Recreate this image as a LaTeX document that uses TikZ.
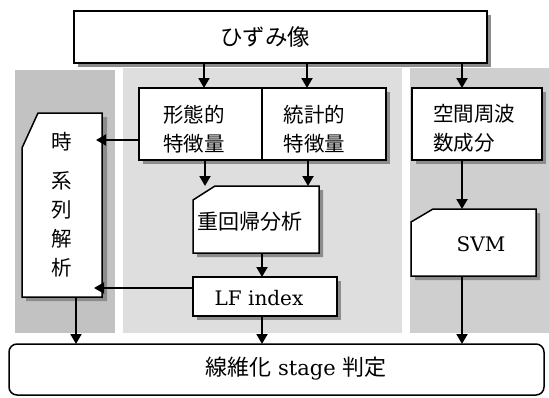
\documentclass[tikz,border=0pt]{standalone}
\usepackage{fontspec}
\newfontfamily\jp{Noto Sans CJK JP}
\newfontfamily\lat{DejaVu Serif}
\usetikzlibrary{arrows.meta,calc}
\pgfdeclarelayer{panels}
\pgfdeclarelayer{shapes}
\pgfsetlayers{panels,shapes,main}
\begin{document}
\begin{tikzpicture}[x=1pt,y=-1pt,
  box/.style={inner sep=0pt, outer sep=0pt},
  txt/.style={inner sep=0pt, outer sep=0pt, align=center, font=\jp\fontsize{20.5}{29}\selectfont},
  arr/.style={line width=2pt, -{Triangle[length=10pt,width=11pt]}},
  boxline/.style={line width=1.5pt, fill=white, line join=miter},
  shade/.style={fill=black!45, draw=none},
  panel/.style={draw=none}]
\useasboundingbox (0,0) rectangle (549,397);

% box nodes
\node[box, minimum width=413pt, minimum height=52pt] (top) at (280.5,37) {};
\node[box, minimum width=123pt, minimum height=72pt] (fa) at (200.5,124) {};
\node[box, minimum width=124pt, minimum height=72pt] (fb) at (324,124) {};
\node[box, minimum width=130pt, minimum height=72pt] (sp) at (477,124) {};
\node[box, minimum width=80pt, minimum height=184pt] (ts) at (62,205) {};
\node[box, minimum width=126pt, minimum height=67pt] (reg) at (256,219.5) {};
\node[box, minimum width=144pt, minimum height=39pt] (lf) at (265,296.5) {};
\node[box, minimum width=125pt, minimum height=67pt] (svm) at (473.5,242.5) {};
\node[box, minimum width=535pt, minimum height=51pt] (st) at (276.5,369.5) {};

% text nodes
\node[txt, font=\jp\fontsize{22.5}{26}\selectfont] (top-t) at (265,37) {ひずみ像};
\node[txt] (fa-t) at (194,129) {形態的\\特徴量};
\node[txt] (fb-t) at (314.5,129) {統計的\\特徴量};
\node[txt, align=left] (sp-t) at (474,128) {空間周波\\数成分};
\node[txt] (ts-t) at (62,205) {時\\[10pt]系\\列\\解\\析};
\node[txt, font=\jp\fontsize{21}{26}\selectfont] (reg-t) at (250,222) {重回帰分析};
\node[txt, font=\lat\fontsize{20}{22}\selectfont] (lf-t) at (259,298) {LF index};
\node[txt, font=\lat\fontsize{20}{22}\selectfont] (svm-t) at (481,244) {SVM};
\node[txt, font=\lat\fontsize{21}{25}\selectfont] (st-t) at (296,369) {{\jp\fontsize{22}{25}\selectfont 線維化} stage {\jp\fontsize{22}{25}\selectfont 判定}};

% panels
\begin{pgfonlayer}{panels}
  \fill[panel, black!24] (15,70) rectangle (115,333);
  \fill[panel, black!13] (123,68) rectangle (402,333);
  \fill[panel, black!19] (410,68) rectangle (549,333);
\end{pgfonlayer}

% box outlines
\begin{pgfonlayer}{shapes}
  % top
  \fill[shade] ($(top.north west)+(4,4)$) rectangle ($(top.south east)+(4,4)$);
  \draw[boxline] (top.north west) rectangle (top.south east);
  % features
  \fill[shade] ($(fa.north west)+(4,4)$) rectangle ($(fb.south east)+(4,4)$);
  \draw[boxline] (fa.north west) rectangle (fb.south east);
  \draw[line width=1.5pt] (fa.north east) -- (fa.south east);
  % spatial freq
  \fill[shade] ($(sp.north west)+(4,4)$) rectangle ($(sp.south east)+(4,4)$);
  \draw[boxline] (sp.north west) rectangle (sp.south east);
  % time series (cut corner)
  \fill[shade] ($(ts.north west)+(20,4)$) -- ($(ts.north east)+(5,4)$) -- ($(ts.south east)+(5,4)$)
     -- ($(ts.south west)+(4,4)$) -- ($(ts.north west)+(4,39)$) -- cycle;
  \draw[boxline] ($(ts.north west)+(16,0)$) -- (ts.north east) -- (ts.south east)
     -- (ts.south west) -- ($(ts.north west)+(0,35)$) -- cycle;
  % regression (cut corner)
  \fill[shade] ($(reg.north west)+(26,4)$) -- ($(reg.north east)+(4,4)$) -- ($(reg.south east)+(4,4)$)
     -- ($(reg.south west)+(4,4)$) -- ($(reg.north west)+(4,18)$) -- cycle;
  \draw[boxline] ($(reg.north west)+(22,0)$) -- (reg.north east) -- (reg.south east)
     -- (reg.south west) -- ($(reg.north west)+(0,14)$) -- cycle;
  % LF index
  \fill[shade] ($(lf.north west)+(4,4)$) rectangle ($(lf.south east)+(4,4)$);
  \draw[boxline] (lf.north west) rectangle (lf.south east);
  % SVM (cut corner)
  \fill[shade] ($(svm.north west)+(26,4)$) -- ($(svm.north east)+(4,4)$) -- ($(svm.south east)+(4,4)$)
     -- ($(svm.south west)+(4,4)$) -- ($(svm.north west)+(4,17)$) -- cycle;
  \draw[boxline] ($(svm.north west)+(22,0)$) -- (svm.north east) -- (svm.south east)
     -- (svm.south west) -- ($(svm.north west)+(0,13)$) -- cycle;
  % stage decision
  \draw[boxline, rounded corners=8pt] (st.north west) rectangle (st.south east);
\end{pgfonlayer}

% guide coordinates for connector positions
\coordinate (xa) at (204,0);
\coordinate (xb) at (307,0);
\coordinate (xc) at (462,0);
\coordinate (xd) at (205,0);
\coordinate (xe) at (308,0);
\coordinate (xf) at (262,0);
\coordinate (xg) at (76,0);
\coordinate (ya) at (0,140);
\coordinate (yb) at (0,288);

% connectors
\draw[arr] (top.south -| xa) -- (fa.north -| xa);
\draw[arr] (top.south -| xb) -- (fb.north -| xb);
\draw[arr] (top.south -| xc) -- (sp.north -| xc);
\draw[arr, shorten >=-6pt] (fa.west |- ya) -- (ts.east |- ya);
\draw[arr] (fa.south -| xd) -- (reg.north -| xd);
\draw[arr] (fb.south -| xe) -- (reg.north -| xe);
\draw[arr] (reg.south -| xf) -- (lf.north -| xf);
\draw[arr, shorten >=-8pt] (lf.west |- yb) -- (ts.east |- yb);
\draw[arr] (ts.south -| xg) -- (st.north -| xg);
\draw[arr] (lf.south -| xf) -- (st.north -| xf);
\draw[arr] (sp.south -| xc) -- (svm.north -| xc);
\draw[arr] (svm.south -| xc) -- (st.north -| xc);
\end{tikzpicture}
\end{document}
